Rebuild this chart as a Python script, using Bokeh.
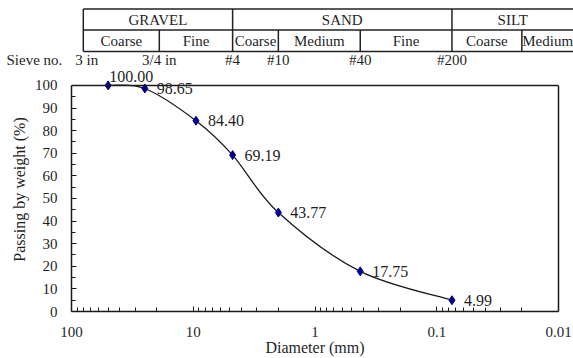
import math
from bokeh.plotting import figure
from bokeh.models import (Range1d, FixedTicker, CustomJSTickFormatter,
                          ColumnDataSource, LabelSet, Label, LinearAxis, Span)
from bokeh.layouts import column
from bokeh.embed import file_html
from bokeh.resources import INLINE
from bokeh.core.properties import value

# ---------------- data ----------------
diameter_mm = [50, 25, 9.5, 4.75, 2.0, 0.425, 0.075]
passing_pct = [100.00, 98.65, 84.40, 69.19, 43.77, 17.75, 4.99]

sieve_names = ["3 in", "3/4 in", "#4", "#10", "#40", "#200"]
sieve_sizes_mm = [75, 19, 4.75, 2.0, 0.425, 0.075]

soil_classes = ["GRAVEL", "SAND", "SILT"]
class_bounds_mm = [80, 4.75, 0.075]            # last class runs to the page edge
sub_classes = ["Coarse", "Fine", "Coarse", "Medium", "Fine", "Coarse", "Medium"]
sub_bounds_mm = [80, 19, 4.75, 2.0, 0.425, 0.075, 0.02]

x_ticks = [100, 10, 1, 0.1, 0.01]
y_ticks = list(range(0, 101, 10))

# ---------------- layout ----------------
W, H = 573, 358
TOP_H = 67            # header strip (table + sieve names)
L, R = 71, 15
FRAME_W = W - L - R
PX_DEC = FRAME_W / 4.0
BOX_TOP, BOX_BOT = 85, 312          # page rows of the 100 % and 0 % lines
BOTTOM = H - BOX_BOT
Y_MAX = 100.0 * (BOX_BOT - TOP_H) / (BOX_BOT - BOX_TOP)   # frame reaches up to the header
FONT = value("Liberation Serif")
TXT = "#1f1f1f"
LINE = "#222222"
AX = "#1a1a1a"

top_left = 10 ** (2 + L / PX_DEC)
top_right = 10 ** (-2 - R / PX_DEC)


def row(px):
    """pixel row (from top of page) -> y of the header strip"""
    return TOP_H - px


# ---------------- classification table ----------------
t = figure(width=W, height=TOP_H, x_axis_type="log",
           x_range=Range1d(top_left, top_right), y_range=Range1d(0, TOP_H),
           output_backend="svg", toolbar_location=None,
           min_border_left=0, min_border_right=0, min_border_top=0, min_border_bottom=0,
           x_axis_location=None, y_axis_location=None)
t.frame_align = False
t.outline_line_color = None
t.grid.visible = False

edge = top_right
cb = class_bounds_mm + [edge]
sb = sub_bounds_mm + [edge]
r_top, r_mid, r_bot = row(8.5), row(29.5), row(51)

t.segment(x0=[cb[0]] * 3, x1=[edge * 0.5] * 3, y0=[r_top, r_mid, r_bot],
          y1=[r_top, r_mid, r_bot], line_color=LINE, line_width=1.5)
t.segment(x0=class_bounds_mm, x1=class_bounds_mm, y0=[r_top] * len(class_bounds_mm),
          y1=[r_bot] * len(class_bounds_mm), line_color=LINE, line_width=1.5)
inner = [b for b in sub_bounds_mm if b not in class_bounds_mm]
t.segment(x0=inner, x1=inner, y0=[r_mid] * len(inner), y1=[r_bot] * len(inner),
          line_color=LINE, line_width=1.5)

txt_kw = dict(text_baseline="middle", text_font=FONT, text_font_size="15px",
              text_color=TXT)
t.text(x=[math.sqrt(cb[i] * cb[i + 1]) for i in range(len(soil_classes))],
       y=[row(19.5)] * len(soil_classes), text=soil_classes, text_align="center", **txt_kw)
t.text(x=[math.sqrt(sb[i] * sb[i + 1]) for i in range(len(sub_classes))],
       y=[row(40.5)] * len(sub_classes), text=sub_classes, text_align="center", **txt_kw)
t.text(x=sieve_sizes_mm, y=[row(59.5)] * len(sieve_sizes_mm), text=sieve_names,
       text_align="center", **txt_kw)
t.text(x=[top_left], y=[row(59.5)], text=["Sieve no."], x_offset=6, text_align="left", **txt_kw)

# ---------------- main chart ----------------
p = figure(width=W, height=H - TOP_H, x_axis_type="log",
           x_range=Range1d(100, 0.01), y_range=Range1d(0, Y_MAX),
           output_backend="svg", toolbar_location=None,
           min_border_left=L, min_border_right=R, min_border_top=0, min_border_bottom=BOTTOM)
p.frame_align = False
p.grid.visible = False
p.outline_line_color = None
p.background_fill_color = "white"
p.border_fill_color = "white"

minor_x = [k * 10 ** e for e in range(-2, 2) for k in range(2, 10)]
p.xaxis.ticker = FixedTicker(ticks=x_ticks, minor_ticks=minor_x)
p.xaxis.formatter = CustomJSTickFormatter(code="return String(tick)")
p.yaxis.ticker = FixedTicker(ticks=y_ticks, minor_ticks=[v + 5 for v in y_ticks[:-1]])
p.yaxis.bounds = (0, 100)

for ax in (p.xaxis[0], p.yaxis[0]):
    ax.axis_line_color = AX
    ax.axis_line_width = 1.5
    ax.major_tick_line_color = AX
    ax.minor_tick_line_color = AX
    ax.major_tick_in = 5
    ax.major_tick_out = 0
    ax.minor_tick_in = 4
    ax.minor_tick_out = 0
    ax.major_label_text_font = "Liberation Serif"
    ax.major_label_text_font_size = "15px"
    ax.major_label_text_color = TXT
    ax.axis_label_text_font = "Liberation Serif"
    ax.axis_label_text_font_size = "16px"
    ax.axis_label_text_font_style = "normal"
    ax.axis_label_text_color = TXT

p.xaxis.axis_label = "Diameter (mm)"
p.yaxis.axis_label = "Passing by weight (%)"
p.xaxis.major_label_standoff = 15
p.xaxis.axis_label_standoff = -1
p.yaxis.major_label_standoff = 14
p.yaxis.axis_label_standoff = 4

# box: right side (an axis without ticks) and top line at 100 %
right = LinearAxis(bounds=(0, 100), ticker=FixedTicker(ticks=[]), axis_line_color=AX,
                   axis_line_width=1.5, major_tick_in=0, major_tick_out=0,
                   minor_tick_in=0, minor_tick_out=0, major_label_text_font_size="0px")
p.add_layout(right, "right")
p.add_layout(Span(location=100, dimension="width", line_color=AX, line_width=1.5))

# smoothed curve (Catmull-Rom style Bezier through the points, in log-x space)
lx = [math.log10(d) for d in diameter_mm]
n = len(lx)
cx0, cy0, cx1, cy1 = [], [], [], []
for i in range(n - 1):
    a, b = max(i - 1, 0), min(i + 2, n - 1)
    cx0.append(10 ** (lx[i] + (lx[i + 1] - lx[a]) / 6))
    cy0.append(passing_pct[i] + (passing_pct[i + 1] - passing_pct[a]) / 6)
    cx1.append(10 ** (lx[i + 1] - (lx[b] - lx[i]) / 6))
    cy1.append(passing_pct[i + 1] - (passing_pct[b] - passing_pct[i]) / 6)
p.bezier(x0=diameter_mm[:-1], y0=passing_pct[:-1], x1=diameter_mm[1:], y1=passing_pct[1:],
         cx0=cx0, cy0=cy0, cx1=cx1, cy1=cy1, line_color=AX, line_width=1.3)

src = ColumnDataSource(dict(d=diameter_mm, p=passing_pct))
p.scatter("d", "p", source=src, marker="diamond", size=9,
          fill_color="#00008b", line_color="#00008b")

lab_kw = dict(text_baseline="middle", text_align="left", text_font="Liberation Serif",
              text_font_size="16px", text_color=TXT)
src_lab = ColumnDataSource(dict(d=diameter_mm[1:], p=passing_pct[1:],
                                lab=[f"{v:.2f}" for v in passing_pct[1:]]))
p.add_layout(LabelSet(x="d", y="p", text="lab", source=src_lab, x_offset=12, **lab_kw))
p.add_layout(Label(x=diameter_mm[0], y=passing_pct[0], text=f"{passing_pct[0]:.2f}",
                   x_offset=1, y_offset=9, **lab_kw))

layout = column(t, p, spacing=0)
open("out.html", "w").write(file_html(layout, INLINE))
